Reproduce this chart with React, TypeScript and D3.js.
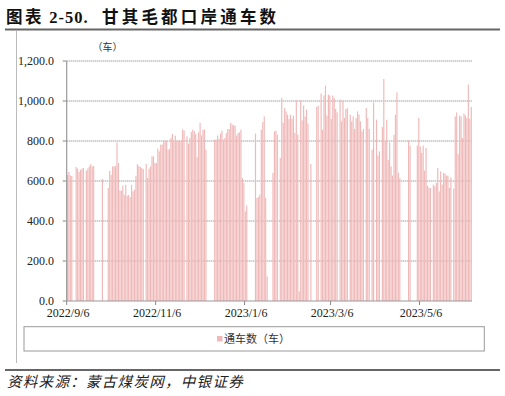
import React from "react";
import * as d3 from "d3";

const startDate = "2022-09-06";
const dailyCount: number[] = [
  630, 645, 628, 625, 0, 0, 670, 662, 645, 655,
  662, 665, 0, 652, 662, 673, 684, 673, 675, 0,
  0, 0, 0, 0, 610, 0, 0, 0, 565, 651,
  631, 673, 673, 675, 793, 690, 553, 551, 577, 531,
  581, 526, 530, 519, 581, 548, 557, 626, 684, 675,
  670, 665, 660, 0, 685, 615, 662, 673, 723, 723,
  690, 690, 762, 748, 782, 782, 802, 802, 802, 757,
  760, 815, 835, 802, 827, 802, 802, 802, 802, 857,
  852, 0, 823, 787, 815, 845, 857, 850, 835, 720,
  843, 890, 828, 857, 857, 757, 0, 0, 0, 0,
  0, 807, 807, 827, 810, 837, 852, 807, 815, 840,
  860, 860, 890, 882, 878, 877, 827, 840, 843, 857,
  615, 590, 448, 477, 0, 0, 0, 0, 0, 837,
  515, 520, 532, 857, 895, 923, 515, 123, 0, 0,
  0, 640, 848, 852, 832, 0, 715, 1015, 890, 965,
  948, 932, 910, 932, 910, 927, 840, 1003, 832, 48,
  1003, 903, 977, 923, 957, 887, 0, 685, 0, 0,
  0, 970, 977, 0, 1037, 857, 1028, 1077, 927, 1032,
  1027, 910, 1027, 1015, 960, 943, 0, 1007, 898, 1002,
  915, 960, 965, 0, 932, 898, 923, 860, 915, 948,
  932, 898, 848, 860, 0, 965, 915, 860, 0, 757,
  993, 0, 907, 727, 748, 0, 870, 1110, 798, 906,
  706, 793, 673, 627, 831, 931, 1043, 641, 614, 0,
  0, 0, 0, 0, 802, 777, 0, 0, 0, 0,
  777, 915, 773, 740, 777, 652, 765, 577, 565, 565,
  0, 582, 573, 590, 665, 548, 648, 582, 640, 637,
  627, 627, 565, 618, 0, 562, 923, 943, 735, 927,
  923, 815, 937, 927, 915, 1082, 910, 970,
];
const tickDates = ["2022-09-06", "2022-11-06", "2023-01-06", "2023-03-06", "2023-05-06"];
const tickLabels = ["2022/9/6", "2022/11/6", "2023/1/6", "2023/3/6", "2023/5/6"];
const yTicks = [0, 200, 400, 600, 800, 1000, 1200];
const seriesName = "通车数（车）";
const unitLabel = "（车）";
const titlePrefix = "图表";
const titleNumber = " 2-50.";
const titleMain = "甘其毛都口岸通车数";
const sourceText = "资料来源：蒙古煤炭网，中银证券";

const W = 505;
const H = 396;
const plot = { left: 66.7, right: 472, top: 61, bottom: 301 };
const barColor = "#f0b9b9";
const serif = "'Liberation Serif', 'Times New Roman', serif";
const cjk = "'Noto Sans CJK SC', sans-serif";

export default function App() {
  const parse = d3.utcParse("%Y-%m-%d");
  const start = parse(startDate) as Date;
  const dates = dailyCount.map((_, i) => d3.utcDay.offset(start, i));
  const end = d3.utcDay.offset(start, dailyCount.length);
  const x = d3.scaleUtc().domain([start, end]).range([plot.left, plot.right]);
  const y = d3.scaleLinear().domain([0, 1200]).range([plot.bottom, plot.top]);
  const dayW = x(d3.utcDay.offset(start, 1)) - x(start);
  const bw = dayW * 0.8;
  const fmt = d3.format(",.1f");

  return (
    <svg width={W} height={H} style={{ position: "absolute", left: 0, top: 0, background: "#fff" }}>
      <text x={6} y={23} fontFamily={`${serif}, ${cjk}`} fontWeight="bold" fontSize={16.5} fill="#111">
        <tspan letterSpacing={2.6}>{titlePrefix}</tspan>
        <tspan letterSpacing={1}>{titleNumber}</tspan>
        <tspan x={102} letterSpacing={3.2}>{titleMain}</tspan>
      </text>
      <line x1={5} x2={500} y1={29.5} y2={29.5} stroke="#666" strokeWidth={2} />
      <line x1={16.5} x2={16.5} y1={31} y2={363} stroke="#bbb" strokeWidth={1} />

      {yTicks.map((t) => (
        <g key={t}>
          {t > 0 && (
            <line x1={plot.left} x2={plot.right} y1={y(t)} y2={y(t)} stroke="#777" strokeWidth={1} strokeDasharray="1,1" />
          )}
          <line x1={plot.left - 4} x2={plot.left} y1={y(t)} y2={y(t)} stroke="#888" />
          <text x={54} y={y(t) + 4} textAnchor="end" fontFamily={serif} fontSize={12} fill="#222">
            {fmt(t)}
          </text>
        </g>
      ))}
      <text x={107.5} y={51} textAnchor="middle" fontFamily={cjk} fontSize={10} fill="#333">
        {unitLabel}
      </text>

      {dailyCount.map((v, i) =>
        v > 0 ? (
          <rect key={i} x={x(dates[i]) + (dayW - bw) / 2} y={y(v)} width={bw} height={plot.bottom - y(v)} fill={barColor} />
        ) : null
      )}

      <line x1={plot.left} x2={plot.left} y1={plot.top} y2={plot.bottom} stroke="#999" strokeWidth={1.2} />
      <line x1={plot.left} x2={plot.right} y1={plot.bottom} y2={plot.bottom} stroke="#999" strokeWidth={1.2} />
      {tickDates.map((d, i) => {
        const px = x(parse(d) as Date);
        return (
          <g key={d}>
            <line x1={px} x2={px} y1={plot.bottom} y2={plot.bottom + 4} stroke="#888" />
            <text x={px + 1.5} y={317} textAnchor="middle" fontFamily={serif} fontSize={12} fill="#222">
              {tickLabels[i]}
            </text>
          </g>
        );
      })}

      <rect x={24} y={326.7} width={460.3} height={24.3} fill="none" stroke="#999" strokeWidth={1} />
      <rect x={217} y={336} width={5.5} height={5.5} fill={barColor} />
      <text x={224} y={343} fontFamily={cjk} fontSize={11} fill="#333">
        {seriesName}
      </text>

      <line x1={5} x2={500} y1={370} y2={370} stroke="#666" strokeWidth={2} />
      <text x={7} y={387} fontFamily={cjk} fontStyle="italic" fontSize={14.5} letterSpacing={1.3} fill="#222">
        {sourceText}
      </text>
    </svg>
  );
}
